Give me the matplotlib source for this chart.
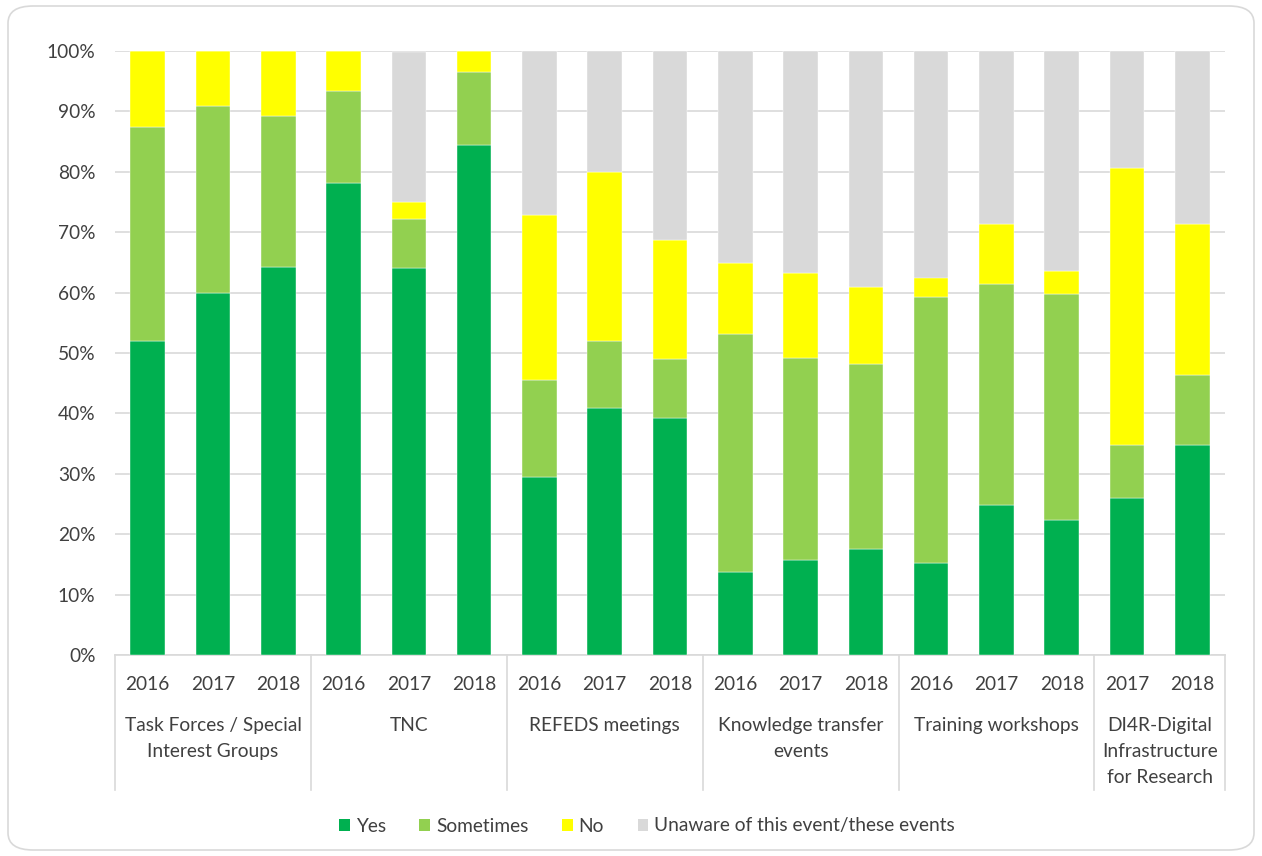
import matplotlib
matplotlib.use("Agg")
import matplotlib.pyplot as plt
from matplotlib.patches import FancyBboxPatch, Patch
import matplotlib.transforms as mtransforms
import numpy as np

plt.rcParams['font.family'] = ['Lato', 'DejaVu Sans']

groups = ["Task Forces / Special\nInterest Groups", "TNC", "REFEDS meetings",
          "Knowledge transfer\nevents", "Training workshops",
          "DI4R-Digital\nInfrastructure\nfor Research"]
group_years = [["2016", "2017", "2018"], ["2016", "2017", "2018"], ["2016", "2017", "2018"],
               ["2016", "2017", "2018"], ["2016", "2017", "2018"], ["2017", "2018"]]

yes = [52.0, 60.0, 64.2, 78.1, 64.1, 84.4, 29.5, 40.9, 39.2, 13.7, 15.8, 17.6,
       15.2, 24.8, 22.4, 26.0, 34.8]
sometimes = [35.4, 30.9, 25.0, 15.3, 8.1, 12.1, 16.0, 11.1, 9.8, 39.4, 33.4, 30.6,
             44.1, 36.6, 37.4, 8.8, 11.6]
no = [12.6, 9.1, 10.8, 6.6, 2.8, 3.5, 27.4, 28.0, 19.7, 11.8, 14.0, 12.8,
      3.2, 10.0, 3.8, 45.8, 25.0]
unaware = [0.0, 0.0, 0.0, 0.0, 24.9, 0.0, 27.1, 20.0, 31.3, 35.1, 36.8, 39.0,
           37.5, 28.6, 36.4, 19.4, 28.6]

series = [("Yes", yes, "#00B050"), ("Sometimes", sometimes, "#92D050"),
          ("No", no, "#FFFF00"), ("Unaware of this event/these events", unaware, "#D9D9D9")]

W, H = 1262, 856
FS = 13.8
TXT = "#404040"
fig = plt.figure(figsize=(W / 100, H / 100), dpi=100)
fig.patch.set_facecolor("white")

border = FancyBboxPatch((8 / W, 6 / H), (W - 16) / W, (H - 12) / H,
                        boxstyle="round,pad=0,rounding_size=0.02",
                        transform=fig.transFigure, facecolor="none",
                        edgecolor="#D9D9D9", linewidth=1.2)
fig.patches.append(border)

ax = fig.add_axes([115 / W, (H - 655) / H, (1225 - 115) / W, (655 - 51) / H])
n = len(yes)
x = np.arange(n)
bottom = np.zeros(n)
for name, vals, col in series:
    vals = np.array(vals)
    ax.bar(x, vals, bottom=bottom, width=0.53, color=col, label=name,
           edgecolor="white", linewidth=0.3, zorder=3)
    bottom += vals

ax.set_xlim(-0.5, n - 0.5)
ax.set_ylim(0, 100)
ax.set_yticks(np.arange(0, 101, 10))
ax.set_yticklabels([f"{v}%" for v in range(0, 101, 10)], fontsize=FS, color=TXT)
ax.yaxis.grid(True, color="#D9D9D9", linewidth=1.2, zorder=0)
ax.tick_params(axis="y", length=0, pad=14)
for s in ["top", "right", "left"]:
    ax.spines[s].set_visible(False)
ax.spines["bottom"].set_color("#D9D9D9")
ax.spines["bottom"].set_linewidth(1.2)

years_flat = [y for g in group_years for y in g]
ax.set_xticks(x)
ax.set_xticklabels(years_flat, fontsize=FS, color=TXT)
ax.tick_params(axis="x", length=0, pad=15)

trans = mtransforms.blended_transform_factory(ax.transData, ax.transAxes)
px = 1.0 / (655 - 51)
start = 0
bounds = [-0.5]
for g, yrs in zip(groups, group_years):
    center = start + (len(yrs) - 1) / 2
    ax.text(center, -(717 - 655) * px, g, transform=trans, ha="center", va="top",
            fontsize=FS, color=TXT, linespacing=1.64)
    start += len(yrs)
    bounds.append(start - 0.5)
for b in bounds:
    ax.plot([b, b], [0, -(790 - 655) * px], transform=trans, color="#D9D9D9",
            linewidth=1.2, clip_on=False)

handles = [Patch(facecolor=c, edgecolor="none", label=nm) for nm, _, c in series]
fig.legend(handles=handles, loc="center", bbox_to_anchor=(647 / W, 1 - 826 / H), ncol=4,
           frameon=False, fontsize=FS, handlelength=0.57, handleheight=0.57,
           handletextpad=0.3, columnspacing=1.75, labelcolor=TXT)

fig.savefig("out.png", dpi=100, facecolor="white")
